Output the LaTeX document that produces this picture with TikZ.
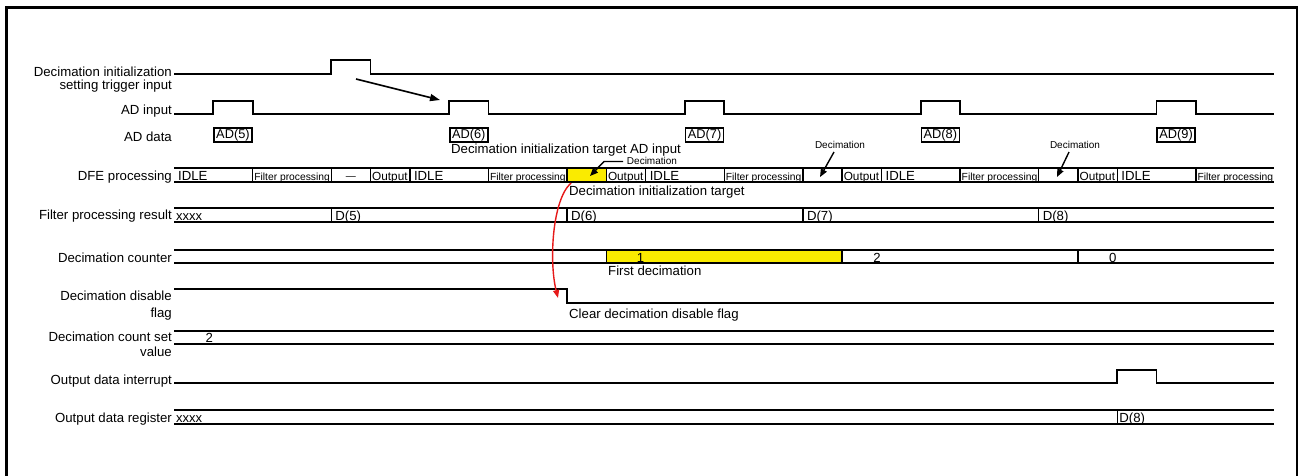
\documentclass[tikz,border=0pt]{standalone}
\usepackage{fontspec}
\setmainfont{Liberation Sans}
\usetikzlibrary{arrows.meta}
\definecolor{hlyellow}{RGB}{250,235,0}
\definecolor{arrred}{RGB}{230,25,25}
\begin{document}
\begin{tikzpicture}[x=1pt,y=-1pt,
  sig/.style={line width=1.8pt, line join=miter},
  sep/.style={line width=1.4pt},
  lbl/.style={anchor=base east, inner sep=0pt, font=\fontsize{13.2}{15}\selectfont},
  txt/.style={anchor=base west, inner sep=0pt, font=\fontsize{13.2}{15}\selectfont},
  ctxt/.style={anchor=base, inner sep=0pt, font=\fontsize{13.2}{15}\selectfont},
  fp/.style={anchor=base west, inner sep=0pt, xshift=1.5pt, font=\fontsize{10.3}{12}\selectfont},
  outp/.style={anchor=base west, inner sep=0pt, xshift=1.5pt, font=\fontsize{11.8}{13}\selectfont},
  xx/.style={anchor=base west, inner sep=0pt, xshift=2pt, font=\fontsize{13}{14}\selectfont},
  decl/.style={anchor=base, inner sep=0pt, font=\fontsize{10}{12}\selectfont},
  adbox/.style={draw, line width=1.5pt, minimum width=38pt, minimum height=14pt, inner sep=0pt, font=\fontsize{12.8}{14}\selectfont},
  blk/.style={line width=1.6pt, -{Triangle[length=10pt,width=7pt]}},
  blks/.style={line width=1.4pt, -{Triangle[length=8pt,width=6.5pt]}},
  redarr/.style={arrred, line width=1.4pt, -{Triangle[length=8pt,width=6pt]}}
]
\useasboundingbox (0,0) rectangle (1301,475);
\clip (0,0) rectangle (1301,475);
\draw[line width=2.2pt] (6.5,7.5) rectangle (1297,500);

% ---- row labels
\node[lbl] (l1a) at (172,76) {Decimation initialization};
\node[lbl] (l1b) at (172,89) {setting trigger input};
\node[lbl] (l2) at (172,114) {AD input};
\node[lbl] (l3) at (172,141) {AD data};
\node[lbl] (l4) at (172,180.5) {DFE processing};
\node[lbl] (l5) at (172,219.5) {Filter processing result};
\node[lbl] (l6) at (172,262) {Decimation counter};
\node[lbl] (l7a) at (172,300.5) {Decimation disable};
\node[lbl] (l7b) at (172,317) {flag};
\node[lbl] (l8a) at (172,341) {Decimation count set};
\node[lbl] (l8b) at (172,356) {value};
\node[lbl] (l9) at (172,384) {Output data interrupt};
\node[lbl] (l10) at (172,422) {Output data register};

\begin{scope}[shift={(174,0)}, x=39.3pt]
% trigger
\draw[sig] (0,74) -- (4,74) -- (4,60) -- (5,60) -- (5,74) -- (28,74);
% AD input
\draw[sig] (0,114) -- (1,114) -- (1,101) -- (2,101) -- (2,114)
  -- (7,114) -- (7,101) -- (8,101) -- (8,114)
  -- (13,114) -- (13,101) -- (14,101) -- (14,114)
  -- (19,114) -- (19,101) -- (20,101) -- (20,114)
  -- (25,114) -- (25,101) -- (26,101) -- (26,114) -- (28,114);
% AD data
\node[adbox] (ad5) at (1.5,135) {AD(5)};
\node[adbox] (ad6) at (7.5,135) {AD(6)};
\node[adbox] (ad7) at (13.5,135) {AD(7)};
\node[adbox] (ad8) at (19.5,135) {AD(8)};
\node[adbox] (ad9) at (25.5,135) {AD(9)};

% DFE processing
\fill[hlyellow] (10,168) rectangle (11,182);
\draw[sig] (0,168) -- (28,168) (0,182) -- (28,182);
\foreach \k in {2,4,5,6,8,10,11,12,14,16,17,18,20,22,23,24,26}
  \draw[sep] (\k,168) -- (\k,182);
\node[txt, xshift=4pt] (i1) at (0,180.5) {IDLE};
\node[fp] (f1) at (2,180) {Filter processing};
\node[anchor=base, inner sep=0pt, font=\fontsize{10}{12}\selectfont] (d1) at (4.5,179) {—};
\node[outp] (o1) at (5,180.5) {Output};
\node[txt, xshift=4pt] (i2) at (6,180.5) {IDLE};
\node[fp] (f2) at (8,180) {Filter processing};
\node[outp] (o2) at (11,180.5) {Output};
\node[txt, xshift=4pt] (i3) at (12,180.5) {IDLE};
\node[fp] (f3) at (14,180) {Filter processing};
\node[outp] (o3) at (17,180.5) {Output};
\node[txt, xshift=4pt] (i4) at (18,180.5) {IDLE};
\node[fp] (f4) at (20,180) {Filter processing};
\node[outp] (o4) at (23,180.5) {Output};
\node[txt, xshift=4pt] (i5) at (24,180.5) {IDLE};
\node[fp] (f5) at (26,180) {Filter processing};

% Filter processing result
\draw[sig] (0,208) -- (28,208) (0,222) -- (28,222);
\foreach \k in {4,10,16,22}
  \draw[sep] (\k,208) -- (\k,222);
\node[xx] (r0) at (0,220) {xxxx};
\node[txt, xshift=4pt] (r5) at (4,220) {D(5)};
\node[txt, xshift=4pt] (r6) at (10,220) {D(6)};
\node[txt, xshift=4pt] (r7) at (16,220) {D(7)};
\node[txt, xshift=4pt] (r8) at (22,220) {D(8)};

% Decimation counter
\fill[hlyellow] (11,250) rectangle (17,263);
\draw[sig] (0,250) -- (28,250) (0,263) -- (28,263);
\foreach \k in {11,17,23}
  \draw[sep] (\k,250) -- (\k,263);
\node[ctxt] (c1) at (11.87,262) {1};
\node[ctxt] (c2) at (17.89,262) {2};
\node[ctxt] (c0) at (23.89,262) {0};

% Decimation disable flag
\draw[sig] (0,289) -- (10,289) -- (10,303) -- (28,303);

% Decimation count set value
\draw[sig] (0,331) -- (28,331) (0,344) -- (28,344);
\node[ctxt] (s2) at (0.9,342) {2};

% Output data interrupt
\draw[sig] (0,383) -- (24,383) -- (24,370) -- (25,370) -- (25,383) -- (28,383);

% Output data register
\draw[sig] (0,410) -- (28,410) (0,424) -- (28,424);
\draw[sep] (24,410) -- (24,424);
\node[xx] (q0) at (0,422) {xxxx};
\node[txt, xshift=2pt] (q8) at (24,422) {D(8)};
\end{scope}

% ---- annotations
\node[txt] (n1) at (451,153) {Decimation initialization target AD input};
\node[txt] (n2) at (569,195) {Decimation initialization target};
\node[txt] (n3) at (608,275.5) {First decimation};
\node[txt] (n4) at (569,318) {Clear decimation disable flag};
\node[decl] (dl1) at (652,164) {Decimation};
\node[decl] (dl2) at (840,148) {Decimation};
\node[decl] (dl3) at (1075,148) {Decimation};

% arrows
\coordinate (ta) at (356,79);
\coordinate (tb) at (440,100);
\draw[blk] (ta) -- (tb);
\coordinate (da1) at (623,161.5);
\coordinate (da1m) at (604,161.5);
\coordinate (da1e) at (590,176);
\draw[blks] (da1) -- (da1m) -- (da1e);
\coordinate (da2) at (834,152);
\coordinate (da2e) at (820,177);
\draw[blks] (da2) -- (da2e);
\coordinate (da3) at (1069,152);
\coordinate (da3e) at (1057,177);
\draw[blks] (da3) -- (da3e);
\coordinate (ra) at (571,183);
\coordinate (rb) at (558,298);
\draw[redarr] (ra) .. controls (552,200) and (549,262) .. (rb);
\end{tikzpicture}
\end{document}
